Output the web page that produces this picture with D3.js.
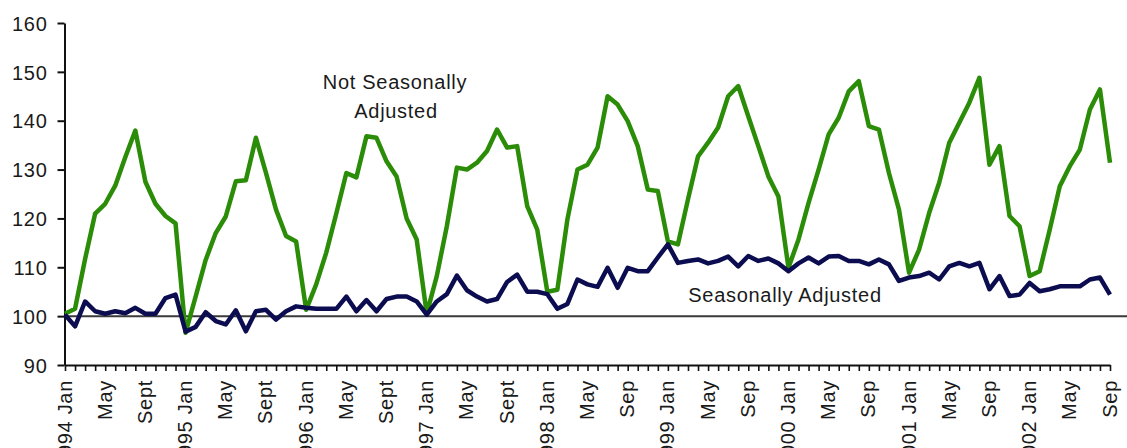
<!DOCTYPE html>
<html>
<head>
<meta charset="utf-8">
<script src="https://cdn.jsdelivr.net/npm/d3@7"></script>
<style>
  html, body { margin: 0; padding: 0; background: #fff; }
  svg { display: block; }
  text { font-family: "Liberation Sans", Arial, sans-serif; fill: #1a1a1a; }
</style>
</head>
<body>
<svg id="chart" width="1127" height="448"></svg>
<script>
// ---- data ----
const years = [1994, 1995, 1996, 1997, 1998, 1999, 2000, 2001, 2002];
const monthNames = ["Jan","Feb","Mar","Apr","May","Jun","Jul","Aug","Sep","Oct","Nov","Dec"];
// monthly categories Jan 1994 .. Sep 2002
const categories = [];
years.forEach(y => monthNames.forEach((m, k) => { if (y < 2002 || k <= 8) categories.push(y + " " + m); }));

// tick labels shown every 4th month (Jan, May, Sep)
const tickLabels = [
  "1994 Jan","May","Sept","1995 Jan","May","Sept","1996 Jan","May","Sept",
  "1997 Jan","May","Sept","1998 Jan","May","Sep","1999 Jan","May","Sep",
  "2000 Jan","May","Sep","2001 Jan","May","Sep","2002 Jan","May","Sep"
];

const notSeasonallyAdjusted = [
  100.5, 101.5, 111.7, 121.0, 123.0, 126.7, 132.5, 138.0, 127.5, 123.0, 120.5, 119.0,
   96.6, 104.0, 111.5, 117.0, 120.4, 127.6, 127.8, 136.5, 129.3, 121.8, 116.4, 115.3,
  101.3, 106.5, 113.0, 121.0, 129.3, 128.4, 136.8, 136.5, 131.7, 128.6, 120.0, 115.7,
  100.5, 108.2, 118.4, 130.4, 130.0, 131.4, 133.8, 138.2, 134.5, 134.8, 122.5, 117.7,
  105.0, 105.4, 119.8, 130.0, 131.0, 134.5, 145.0, 143.3, 139.9, 134.8, 125.9, 125.6,
  115.3, 114.7, 123.9, 132.7, 135.5, 138.6, 145.0, 147.1, 140.9, 134.8, 128.6, 124.5,
  109.9, 115.7, 123.2, 130.0, 137.2, 140.6, 146.0, 148.1, 138.9, 138.2, 129.3, 121.8,
  108.9, 113.6, 121.1, 127.3, 135.5, 139.6, 143.7, 148.8, 131.0, 134.8, 120.5, 118.4,
  108.2, 109.2, 117.7, 126.6, 130.7, 134.1, 142.3, 146.4, 131.4
];

const seasonallyAdjusted = [
  100.3,  97.9, 103.0, 101.0, 100.5, 101.0, 100.6, 101.7, 100.5, 100.5, 103.7, 104.4,
   96.8,  97.8, 100.8,  99.0,  98.3, 101.2,  96.9, 101.0, 101.3,  99.3, 101.0, 102.0,
  101.7, 101.5, 101.5, 101.5, 104.0, 101.0, 103.3, 101.0, 103.5, 104.0, 104.0, 103.0,
  100.3, 103.0, 104.5, 108.3, 105.3, 104.0, 103.0, 103.5, 107.0, 108.5, 105.0, 105.0,
  104.5, 101.5, 102.5, 107.5, 106.5, 106.0, 109.9, 105.8, 109.9, 109.2, 109.2, 112.0,
  114.7, 110.9, 111.3, 111.6, 110.8, 111.3, 112.2, 110.2, 112.3, 111.3, 111.8, 110.8,
  109.2, 110.8, 112.0, 110.8, 112.2, 112.3, 111.3, 111.3, 110.6, 111.6, 110.6, 107.2,
  107.9, 108.2, 108.9, 107.5, 110.2, 110.9, 110.2, 110.9, 105.5, 108.2, 104.1, 104.4,
  106.8, 105.1, 105.5, 106.1, 106.1, 106.1, 107.5, 107.9, 104.4
];

const yTicks = [90, 100, 110, 120, 130, 140, 150, 160];
const baseline = 100;

// ---- drawing ----
const svg = d3.select("#chart");
const W = 1127, H = 448;
svg.append("rect").attr("width", W).attr("height", H).attr("fill", "#fff");

const x = d3.scalePoint().domain(categories).range([65, 1110]).padding(0);
const y = d3.scaleLinear().domain([90, 160]).range([365, 23]);

const FONT = "20px";
const LS = "0.7px";

// reference line at 100
svg.append("line")
  .attr("x1", x(categories[0])).attr("x2", W)
  .attr("y1", y(baseline)).attr("y2", y(baseline))
  .attr("stroke", "#3a3a3a").attr("stroke-width", 2);

// y axis
const yAxis = svg.append("g")
  .attr("transform", `translate(${x(categories[0]) - 0.5},0)`)
  .call(d3.axisLeft(y).tickValues(yTicks).tickSize(7).tickPadding(10).tickSizeOuter(0));
yAxis.select(".domain").attr("stroke", "#111").attr("stroke-width", 2);
yAxis.selectAll(".tick line").attr("stroke", "#111").attr("stroke-width", 2);
yAxis.selectAll(".tick text")
  .style("font-size", FONT).style("letter-spacing", LS)
  .attr("fill", "#1a1a1a").attr("dy", "0.36em");

// x axis
const labelByIndex = {};
tickLabels.forEach((t, j) => { labelByIndex[j * 4] = t; });
const xAxis = svg.append("g")
  .attr("transform", `translate(0,${y(90)})`)
  .call(d3.axisBottom(x).tickSize(6).tickSizeOuter(0)
    .tickFormat((d, i) => labelByIndex[categories.indexOf(d)] || ""));
xAxis.select(".domain").attr("stroke", "#111").attr("stroke-width", 2);
xAxis.selectAll(".tick line").attr("stroke", "#111").attr("stroke-width", 1.6);
xAxis.selectAll(".tick text")
  .style("font-size", FONT).style("letter-spacing", LS)
  .attr("fill", "#1a1a1a")
  .attr("transform", "rotate(-90)")
  .attr("text-anchor", "end")
  .attr("x", -15).attr("y", 0).attr("dy", "0.3em");

// series lines
const line = d3.line()
  .x((d, i) => x(categories[i]))
  .y(d => y(d));

svg.append("path").datum(notSeasonallyAdjusted)
  .attr("d", line).attr("fill", "none")
  .attr("stroke", "#2b8c08").attr("stroke-width", 4.5).attr("stroke-linejoin", "round");

svg.append("path").datum(seasonallyAdjusted)
  .attr("d", line).attr("fill", "none")
  .attr("stroke", "#0c0c50").attr("stroke-width", 4.5).attr("stroke-linejoin", "round");

// annotations
const ann = svg.append("g").style("font-size", FONT).style("letter-spacing", LS);
ann.append("text").attr("x", 395).attr("y", 89).attr("text-anchor", "middle").text("Not Seasonally");
ann.append("text").attr("x", 396).attr("y", 118).attr("text-anchor", "middle").text("Adjusted");
ann.append("text").attr("x", 785).attr("y", 302).attr("text-anchor", "middle").text("Seasonally Adjusted");
</script>
</body>
</html>
